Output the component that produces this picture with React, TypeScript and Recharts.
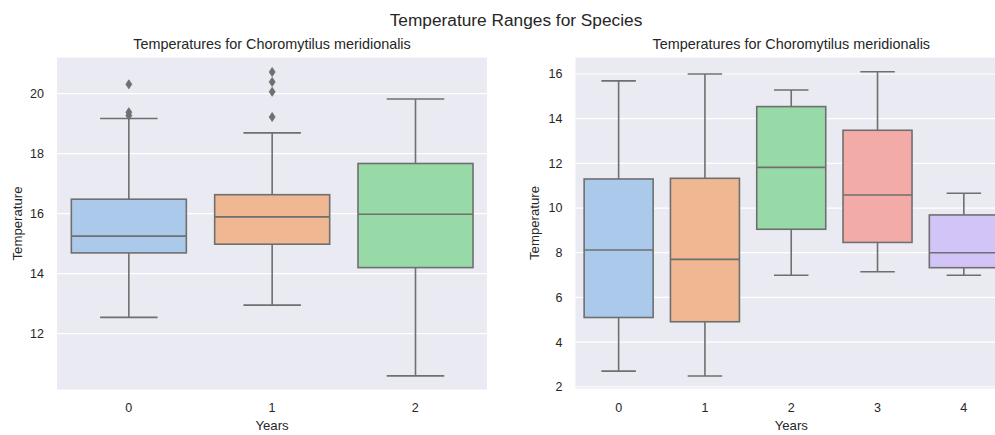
import React from 'react';
import { ComposedChart, Bar, XAxis, YAxis, CartesianGrid, Cell } from 'recharts';

// ---- Data (left panel) ----
const leftYears = ['0', '1', '2'];
const leftWhiskerLow = [12.54, 12.95, 10.59];
const leftQ1 = [14.69, 14.98, 14.2];
const leftMedian = [15.25, 15.89, 15.98];
const leftQ3 = [16.48, 16.63, 17.67];
const leftWhiskerHigh = [19.17, 18.69, 19.82];
const leftOutliers = [[20.31, 19.38, 19.27], [20.72, 20.39, 20.06, 19.22], []];
const leftTicks = [12, 14, 16, 18, 20];

// ---- Data (right panel) ----
const rightYears = ['0', '1', '2', '3', '4'];
const rightWhiskerLow = [2.7, 2.48, 6.99, 7.15, 6.99];
const rightQ1 = [5.1, 4.91, 9.05, 8.46, 7.33];
const rightMedian = [8.12, 7.7, 11.82, 10.58, 8.0];
const rightQ3 = [11.3, 11.33, 14.54, 13.48, 9.69];
const rightWhiskerHigh = [15.69, 16.0, 15.28, 16.1, 10.66];
const rightOutliers = [[], [], [], [], []];
const rightTicks = [2, 4, 6, 8, 10, 12, 14, 16];

const suptitle = 'Temperature Ranges for Species';
const subtitle = 'Temperatures for Choromytilus meridionalis';

const palette = ['#abc9ea', '#efb792', '#98daa7', '#f3aba8', '#d3c4f7'];
const LINE = '#6f6f6f';
const TEXT = '#262626';
const FONT = "'Liberation Sans', Arial, Helvetica, sans-serif";

function buildRows(years: string[], low: number[], q1: number[], med: number[], q3: number[], high: number[], outliers: number[][]) {
  return years.map((year, i) => ({
    year,
    low: low[i],
    q1: q1[i],
    med: med[i],
    q3: q3[i],
    high: high[i],
    outliers: outliers[i],
  }));
}

const leftRows = buildRows(leftYears, leftWhiskerLow, leftQ1, leftMedian, leftQ3, leftWhiskerHigh, leftOutliers);
const rightRows = buildRows(rightYears, rightWhiskerLow, rightQ1, rightMedian, rightQ3, rightWhiskerHigh, rightOutliers);

const BoxShape = (props: any) => {
  const { x, y, width, height, payload, fill } = props;
  if (!payload || !isFinite(y) || !isFinite(height)) return null;
  const { low, high, q1, med, q3, outliers } = payload;
  const span = high - low;
  const py = (v: number) => y + (height * (high - v)) / span;
  const cx = x + width / 2;
  const capHalf = width / 4;
  const sw = 1.6;
  return (
    <g>
      <line x1={cx} x2={cx} y1={py(high)} y2={py(q3)} stroke={LINE} strokeWidth={sw} />
      <line x1={cx} x2={cx} y1={py(q1)} y2={py(low)} stroke={LINE} strokeWidth={sw} />
      <line x1={cx - capHalf} x2={cx + capHalf} y1={py(high)} y2={py(high)} stroke={LINE} strokeWidth={sw} />
      <line x1={cx - capHalf} x2={cx + capHalf} y1={py(low)} y2={py(low)} stroke={LINE} strokeWidth={sw} />
      <rect x={x} y={py(q3)} width={width} height={py(q1) - py(q3)} fill={fill} stroke={LINE} strokeWidth={sw} />
      <line x1={x} x2={x + width} y1={py(med)} y2={py(med)} stroke={LINE} strokeWidth={sw} />
      {(outliers || []).map((o: number, k: number) => {
        const oy = py(o);
        return (
          <polygon
            key={k}
            points={`${cx},${oy - 4.5} ${cx + 3},${oy} ${cx},${oy + 4.5} ${cx - 3},${oy}`}
            fill={LINE}
            stroke={LINE}
            strokeWidth={0.8}
          />
        );
      })}
    </g>
  );
};

type PanelProps = {
  rows: any[];
  width: number;
  yWidth: number;
  xHeight: number;
  domain: [number, number];
  ticks: number[];
  yLabelOffset: number;
  xTickMargin: number;
};

const Panel = ({ rows, width, yWidth, xHeight, domain, ticks, yLabelOffset, xTickMargin }: PanelProps) => (
  <ComposedChart
    width={width}
    height={435}
    data={rows}
    margin={{ top: 57, right: 8, bottom: 0, left: 0 }}
    barCategoryGap="10%"
    style={{ fontFamily: FONT }}
  >
    <CartesianGrid vertical={false} stroke="#ffffff" strokeWidth={1.2} fill="#eaeaf2" fillOpacity={1} />
    <XAxis
      dataKey="year"
      type="category"
      height={xHeight}
      tickLine={false}
      axisLine={false}
      tickSize={0}
      tickMargin={xTickMargin}
      tick={{ fill: TEXT, fontSize: 12.5, fontFamily: FONT }}
      label={{ value: 'Years', position: 'insideBottom', offset: 5, style: { fill: TEXT, fontSize: 13.2, fontFamily: FONT } }}
    />
    <YAxis
      type="number"
      width={yWidth}
      domain={domain}
      ticks={ticks}
      allowDataOverflow
      tickLine={false}
      axisLine={false}
      tickSize={0}
      tickMargin={13}
      tick={{ fill: TEXT, fontSize: 12.5, fontFamily: FONT }}
      label={{
        value: 'Temperature',
        angle: -90,
        position: 'insideLeft',
        offset: yLabelOffset,
        style: { textAnchor: 'middle', fill: TEXT, fontSize: 13.2, fontFamily: FONT },
      }}
    />
    <Bar dataKey={(d: any) => [d.low, d.high]} shape={BoxShape} isAnimationActive={false}>
      {rows.map((_, i) => (
        <Cell key={i} fill={palette[i % palette.length]} />
      ))}
    </Bar>
  </ComposedChart>
);

export default function App() {
  return (
    <div
      style={{
        position: 'absolute',
        left: 0,
        top: 0,
        width: 995,
        height: 435,
        overflow: 'hidden',
        background: '#ffffff',
        fontFamily: FONT,
      }}
    >
      <div style={{ position: 'absolute', left: 0, top: 0 }}>
        <Panel
          rows={leftRows}
          width={495}
          yWidth={57}
          xHeight={45}
          domain={[10.12, 21.22]}
          ticks={leftTicks}
          yLabelOffset={17.5}
          xTickMargin={13.4}
        />
      </div>
      <div style={{ position: 'absolute', left: 495, top: 0 }}>
        <Panel
          rows={rightRows}
          width={520}
          yWidth={80.5}
          xHeight={46}
          domain={[1.9, 16.76]}
          ticks={rightTicks}
          yLabelOffset={39.5}
          xTickMargin={14}
        />
      </div>
      <svg
        width={995}
        height={435}
        style={{ position: 'absolute', left: 0, top: 0, pointerEvents: 'none' }}
      >
        <text x={516} y={26} textAnchor="middle" fontSize={17.3} fill={TEXT} fontFamily={FONT}>
          {suptitle}
        </text>
        <text x={272} y={49.3} textAnchor="middle" fontSize={14.4} fill={TEXT} fontFamily={FONT}>
          {subtitle}
        </text>
        <text x={791.3} y={49.3} textAnchor="middle" fontSize={14.4} fill={TEXT} fontFamily={FONT}>
          {subtitle}
        </text>
      </svg>
    </div>
  );
}
